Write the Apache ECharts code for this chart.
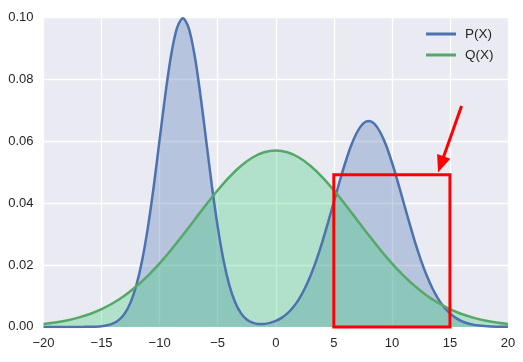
<!DOCTYPE html>
<html>
<head>
<meta charset="utf-8">
<script src="https://cdn.jsdelivr.net/npm/echarts@6/dist/echarts.min.js"></script>
<style>
html,body{margin:0;padding:0;background:#fff;}
#chart{width:523px;height:362px;}
</style>
</head>
<body>
<div id="chart"></div>
<script>
// x positions for P(X)
var xP = [-20,-19.5,-19,-18.5,-18,-17.5,-17,-16.5,-16,-15.5,-15,-14.5,-14,-13.5,-13,-12.5,-12,-11.5,-11,-10.5,
  -10,-9.5,-9,-8.5,-8,-7.5,-7,-6.5,-6,-5.5,-5,-4.5,-4,-3.5,-3,-2.5,-2,-1.5,-1,-0.5,
  0,0.5,1,1.5,2,2.5,3,3.5,4,4.5,5,5.5,6,6.5,7,7.5,8,8.5,9,9.5,
  10,10.5,11,11.5,12,12.5,13,13.5,14,14.5,15,15.5,16,16.5,17,17.5,18,18.5,19,19.5,20];
var pValues = [0,0,0,0,0.0000004,0.0000013,0.000004,0.000012,0.0000334,0.0000882,0.000218,0.000507,0.00111,0.00227,0.00438,0.00793,0.01349,0.0216,0.0324,0.0456,
  0.0605,0.0753,0.0880,0.0966,0.0997,0.0966,0.0880,0.0753,0.0605,0.0456,0.0324,0.0216,0.0135,0.00797,0.00446,0.00242,0.00137,0.00095,0.00096,0.00129,
  0.00193,0.00293,0.00437,0.00636,0.0090,0.0124,0.0166,0.0216,0.0273,0.0337,0.0403,0.0470,0.0532,0.0587,0.0629,0.0656,0.0665,0.0656,0.0629,0.0587,
  0.0532,0.0470,0.0403,0.0337,0.0273,0.0216,0.0166,0.0124,0.0090,0.00636,0.00437,0.00292,0.00190,0.00120,0.00074,0.00044,0.00026,0.00015,0.00008,0.00004,0.00002];
// x positions for Q(X)
var xQ = [-20,-19,-18,-17,-16,-15,-14,-13,-12,-11,-10,-9,-8,-7,-6,-5,-4,-3,-2,-1,0,1,2,3,4,5,6,7,8,9,10,11,12,13,14,15,16,17,18,19,20];
var qValues = [0.00096,0.00143,0.00209,0.00299,0.00418,0.00574,0.00771,0.01016,0.01312,0.01658,0.02054,0.02494,0.02966,0.03457,0.03948,0.04416,0.04842,0.05200,0.05472,0.05642,
  0.0570,0.05642,0.05472,0.05200,0.04842,0.04416,0.03948,0.03457,0.02966,0.02494,0.02054,0.01658,0.01312,0.01016,0.00771,0.00574,0.00418,0.00299,0.00209,0.00143,0.00096];
var seriesNames = ['P(X)', 'Q(X)'];
var xTicks = [-20,-15,-10,-5,0,5,10,15,20];
var yTickLabels = ['0.00','0.02','0.04','0.06','0.08','0.10'];
// annotation: rectangle corners and arrow (data coordinates)
var boxFrom = [5, -0.0008];
var boxTo = [15, 0.0492];
var arrowFrom = [16, 0.0714];
var arrowTo = [14.22, 0.0525];

function pairs(xs, ys){ var out=[]; for(var i=0;i<xs.length;i++){ out.push([xs[i], ys[i]]); } return out; }

var chart = echarts.init(document.getElementById('chart'), null, {renderer:'canvas'});
var font = 'Liberation Sans, Arial, sans-serif';
chart.setOption({
  animation: false,
  backgroundColor: '#ffffff',
  grid: {left: 43.5, right: 15, top: 17.4, bottom: 35.1, show: true, backgroundColor: '#EAEAF2', borderWidth: 0},
  legend: {
    orient: 'vertical', left: 421, top: 27, itemWidth: 30, itemHeight: 3, itemGap: 7,
    icon: 'rect', padding: [0,0,0,5],
    textStyle: {fontFamily: font, fontSize: 13.5, color: '#262626', padding: [0,0,0,4]},
    data: seriesNames
  },
  xAxis: {
    type: 'value', min: -20, max: 20, interval: 5,
    axisLine: {show: false}, axisTick: {show: false},
    splitLine: {show: true, lineStyle: {color: '#ffffff', width: 1.3}},
    axisLabel: {margin: 10, fontFamily: font, fontSize: 13, color: '#262626',
      formatter: function(v){ return xTicks.indexOf(v) >= 0 ? String(v).replace('-', '\u2212') : ''; }}
  },
  yAxis: {
    type: 'value', min: 0, max: 0.1, interval: 0.02,
    axisLine: {show: false}, axisTick: {show: false},
    splitLine: {show: true, lineStyle: {color: '#ffffff', width: 1.3}},
    axisLabel: {margin: 10, fontFamily: font, fontSize: 13, color: '#262626',
      formatter: function(v){ return yTickLabels[Math.round(v/0.02)]; }}
  },
  series: [
    {
      name: 'P area', type: 'line', data: pairs(xP, pValues), smooth: 0.3, showSymbol: false, silent: true,
      lineStyle: {width: 0, opacity: 0}, itemStyle: {color: '#4C72B0'},
      areaStyle: {color: 'rgba(76,114,176,0.32)', opacity: 1, origin: 'start'}, z: 2
    },
    {
      name: 'Q area', type: 'line', data: pairs(xQ, qValues), smooth: 0.3, showSymbol: false, silent: true,
      lineStyle: {width: 0, opacity: 0}, itemStyle: {color: '#55A868'},
      areaStyle: {color: 'rgba(46,204,113,0.3)', opacity: 1, origin: 'start'}, z: 3
    },
    {
      name: seriesNames[0], type: 'line', data: pairs(xP, pValues), smooth: 0.3, showSymbol: false,
      lineStyle: {color: '#4C72B0', width: 2.5}, itemStyle: {color: '#4C72B0'}, z: 4
    },
    {
      name: seriesNames[1], type: 'line', data: pairs(xQ, qValues), smooth: 0.3, showSymbol: false,
      lineStyle: {color: '#55A868', width: 2.5}, itemStyle: {color: '#55A868'}, z: 5, clip: false,
      markArea: {
        silent: true, z: 10,
        itemStyle: {color: 'rgba(0,0,0,0)', borderColor: '#FF0000', borderWidth: 3},
        data: [[{coord: boxFrom}, {coord: boxTo}]]
      },
      markLine: {
        silent: true, z: 10, symbol: ['none', 'triangle'], symbolSize: [14, 17], symbolOffset: 0,
        label: {show: false},
        itemStyle: {color: '#FF0000'},
        lineStyle: {color: '#FF0000', width: 3, type: 'solid', opacity: 1},
        emphasis: {disabled: true},
        data: [[{coord: arrowFrom}, {coord: arrowTo}]]
      }
    }
  ]
});
</script>
</body>
</html>
